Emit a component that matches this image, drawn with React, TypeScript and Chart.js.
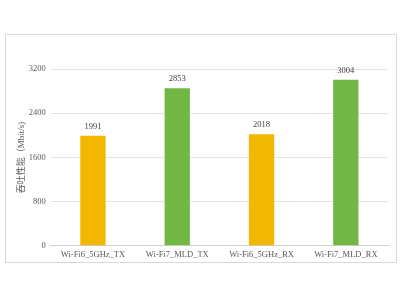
import React, { useEffect, useRef } from "react";
import { Chart, registerables } from "chart.js";

Chart.register(...registerables);

const categories = ["Wi-Fi6_5GHz_TX", "Wi-Fi7_MLD_TX", "Wi-Fi6_5GHz_RX", "Wi-Fi7_MLD_RX"];
const throughput = [1991, 2853, 2018, 3004];
const barColors = ["#F2B800", "#70B843", "#F2B800", "#70B843"];
const yTicks = [0, 800, 1600, 2400, 3200];
const yTitle = "吞吐性能（Mbit/s)";

const SERIF = "'Liberation Serif', 'Times New Roman', 'Noto Sans CJK SC', serif";

const valueLabels = {
  id: "valueLabels",
  afterDatasetsDraw(chart: any) {
    const ctx = chart.ctx;
    const meta = chart.getDatasetMeta(0);
    ctx.save();
    ctx.font = `8.5px ${SERIF}`;
    ctx.fillStyle = "#404040";
    ctx.textAlign = "center";
    ctx.textBaseline = "bottom";
    meta.data.forEach((el: any, i: number) => {
      ctx.fillText(String(chart.data.datasets[0].data[i]), el.x, el.y - 5);
    });
    ctx.restore();
  },
};

export default function App() {
  const ref = useRef<HTMLCanvasElement>(null);
  useEffect(() => {
    if (!ref.current) return;
    const chart = new Chart(ref.current, {
      type: "bar",
      data: {
        labels: categories,
        datasets: [
          {
            data: throughput,
            backgroundColor: barColors,
            categoryPercentage: 1,
            barPercentage: 0.3,
          },
        ],
      },
      options: {
        animation: false,
        responsive: false,
        maintainAspectRatio: false,
        layout: { padding: { left: 10, right: 12, top: 69, bottom: 36 } },
        plugins: { legend: { display: false }, tooltip: { enabled: false } },
        scales: {
          x: {
            grid: { display: false, drawTicks: false },
            border: { color: "#d0d0d0" },
            ticks: { color: "#595959", font: { family: SERIF, size: 8.5 }, padding: 4, maxRotation: 0 },
          },
          y: {
            min: 0,
            max: 3200,
            afterBuildTicks: (axis: any) => {
              axis.ticks = yTicks.map((v) => ({ value: v }));
            },
            grid: { color: "#e3e3e3", drawTicks: false },
            border: { display: false },
            ticks: {
              color: "#595959",
              font: { family: SERIF, size: 8.5 },
              padding: 5,
              callback: (v: any) => String(v),
            },
            title: {
              display: true,
              text: yTitle,
              color: "#595959",
              font: { family: SERIF, size: 9 },
              padding: { top: 6, bottom: -3 },
            },
          },
        },
      },
      plugins: [valueLabels],
    });
    return () => chart.destroy();
  }, []);
  return (
    <div style={{ position: "fixed", left: 0, top: 0, width: 400, height: 300, background: "#fff" }}>
      <div
        style={{
          position: "absolute",
          left: 5,
          top: 34,
          width: 392,
          height: 229,
          border: "1px solid #d9d9d9",
          boxSizing: "border-box",
        }}
      />
      <canvas ref={ref} width={400} height={300} style={{ position: "absolute", left: 0, top: 0 }} />
    </div>
  );
}
